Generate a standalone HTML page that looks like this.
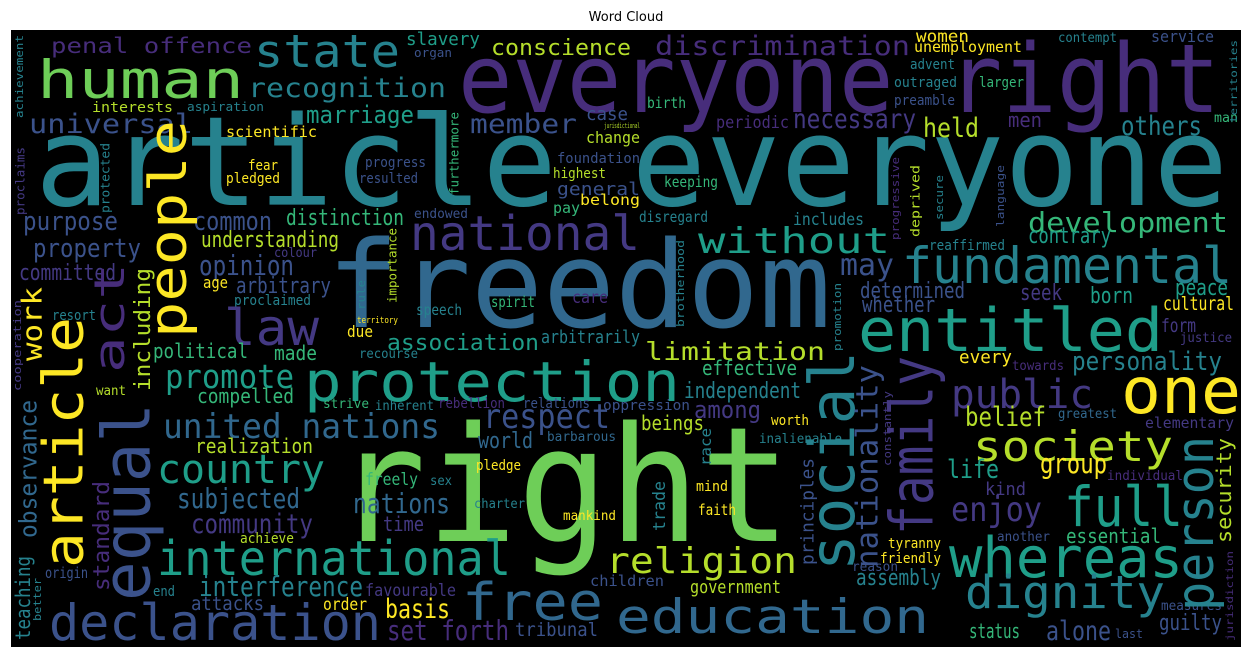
<!DOCTYPE html>
<html><head><meta charset="utf-8"><style>
html,body{margin:0;padding:0;background:#fff;}
svg{display:block;}
text{font-family:"DejaVu Sans Mono","Liberation Mono",monospace;}
</style></head><body>
<svg id="cloud" width="1252" height="656" xmlns="http://www.w3.org/2000/svg">
<text x="626" y="21" text-anchor="middle" style="font-family:'DejaVu Sans','Liberation Sans',sans-serif;font-size:13px" fill="#000">Word Cloud</text>
<rect x="11" y="30" width="1230" height="617" fill="#000"/>
<g id="words"></g>
</svg>
<script>
const P='#472d7b',P2='#443983',DB='#3b528b',B='#31688e',T='#26828e',TG='#1f9e89',G='#35b779',LG='#6ece58',YG='#b5de2b',Y='#fde725';
// horizontal words: text, x0, x1, baseline, size, color
const hWords=[
["article everyone",35,1228,205,124,T],
["everyone right",458,1220,112,95,P],
["freedom",327,831,327,120,B],
["right",335,791,541,160,LG],
["human",37,244,98,53,LG],
["state",254,400,67,45,T],
["penal offence",51,252,53,21,P],
["slavery",406,480,45,18,TG],
["conscience",491,631,55,22,YG],
["organ",414,452,57,12,DB],
["recognition",248,446,97,27,T],
["interests",92,173,112,14,YG],
["aspiration",187,264,111,12,T],
["universal",29,193,133,27,DB],
["marriage",306,414,123,24,TG],
["member",470,577,133,27,DB],
["case",586,628,120,18,DB],
["jurisdictional",604,640,128,7,YG],
["scientific",226,317,137,15,Y],
["fear",248,278,170,14,Y],
["pledged",226,280,183,14,Y],
["progress",365,426,167,14,DB],
["resulted",359,418,183,14,DB],
["foundation",557,640,163,14,DB],
["change",586,640,143,16,YG],
["highest",553,606,178,14,YG],
["general",557,640,195,18,DB],
["belong",580,640,205,15,Y],
["pay",553,580,213,15,G],
["endowed",414,468,218,13,DB],
["purpose",23,118,230,26,DB],
["common",193,272,230,26,DB],
["distinction",286,404,225,22,G],
["national",410,640,250,48,P2],
["property",33,141,257,26,DB],
["understanding",201,339,247,22,YG],
["colour",274,317,257,13,P2],
["opinion",199,294,275,28,DB],
["committed",19,116,280,22,P2],
["age",203,228,288,16,Y],
["arbitrary",236,331,293,22,DB],
["proclaimed",234,311,305,14,T],
["territory",357,398,323,9,Y],
["speech",416,462,315,15,T],
["spirit",491,535,307,15,G],
["care",572,608,303,17,P],
["due",347,373,337,16,Y],
["arbitrarily",541,640,343,18,T],
["law",224,319,345,50,P2],
["resort",52,96,320,14,T],
["association",387,539,350,22,TG],
["political",153,248,358,20,G],
["made",274,317,360,20,G],
["recourse",359,418,358,13,T],
["promote",165,294,388,33,TG],
["want",96,126,395,13,YG],
["compelled",197,294,403,20,G],
["protection",304,680,401,55,TG],
["strive",323,369,408,13,G],
["inherent",375,434,410,13,T],
["rebellion",438,505,408,14,P],
["relations",523,590,408,14,DB],
["oppression",603,690,410,14,DB],
["united nations",163,440,438,34,B],
["respect",483,610,428,34,DB],
["world",478,533,448,22,B],
["barbarous",547,616,441,13,B],
["realization",195,313,453,20,YG],
["country",157,325,483,40,TG],
["pledge",476,521,470,14,Y],
["freely",365,418,485,17,G],
["sex",430,452,485,13,T],
["subjected",177,300,508,28,B],
["nations",353,450,513,28,B],
["charter",474,525,508,13,T],
["mankind",563,616,520,13,Y],
["community",191,313,533,27,P2],
["time",383,424,531,20,P2],
["achieve",240,294,543,14,YG],
["origin",45,88,578,15,DB],
["international",157,511,575,48,TG],
["end",153,175,596,14,T],
["interference",199,363,596,28,T],
["favourable",365,456,596,17,P2],
["attacks",191,264,610,19,DB],
["order",323,367,610,17,Y],
["basis",385,450,618,27,Y],
["declaration",49,381,640,50,DB],
["set forth",387,509,640,28,P],
["free",462,603,620,52,B],
["children",590,664,586,15,DB],
["tribunal",515,598,636,19,DB],
["religion",606,797,573,36,YG],
["education",616,929,633,47,B],
["limitation",645,825,360,25,YG],
["entitled",858,1163,351,60,TG],
["justice",1180,1232,342,13,P2],
["effective",702,797,375,20,G],
["every",959,1012,363,18,Y],
["towards",1012,1064,370,13,P],
["personality",1072,1222,370,26,T],
["public",951,1093,408,40,P2],
["one",1121,1241,413,64,Y],
["independent",684,801,398,22,T],
["among",694,761,418,24,P2],
["beings",641,704,430,20,YG],
["worth",771,809,425,14,Y],
["inalienable",759,842,443,13,T],
["belief",965,1046,426,27,YG],
["greatest",1058,1117,418,13,B],
["elementary",1145,1234,428,15,P2],
["society",973,1173,461,42,YG],
["life",947,999,478,26,TG],
["group",1040,1107,473,28,Y],
["individual",1107,1183,480,13,P],
["kind",985,1026,495,18,P2],
["mind",696,728,491,14,Y],
["faith",698,736,515,15,Y],
["enjoy",951,1042,521,34,P2],
["full",1064,1183,526,55,TG],
["another",997,1050,541,13,DB],
["essential",1066,1161,543,20,G],
["tyranny",888,941,548,14,Y],
["friendly",880,941,563,14,Y],
["reason",852,898,571,13,DB],
["whereas",949,1183,577,56,TG],
["assembly",856,941,585,22,T],
["government",690,781,593,18,YG],
["dignity",965,1165,608,45,T],
["measures",1161,1222,610,13,DB],
["guilty",1159,1222,630,22,DB],
["status",969,1020,638,20,G],
["alone",1046,1111,640,27,DB],
["last",1115,1143,638,12,DB],
["discrimination",655,910,55,27,P],
["women",916,969,42,17,Y],
["unemployment",914,1022,52,15,Y],
["contempt",1058,1117,42,13,T],
["service",1151,1214,42,16,DB],
["advent",910,955,69,14,T],
["outraged",894,957,87,14,T],
["larger",979,1024,87,14,G],
["birth",647,686,108,15,G],
["preamble",894,955,105,14,DB],
["periodic",716,789,128,17,P],
["necessary",793,916,128,27,P2],
["held",923,979,137,27,YG],
["men",1008,1042,127,20,P],
["others",1121,1202,135,27,T],
["man",1214,1238,122,13,G],
["keeping",664,718,187,15,G],
["disregard",639,708,222,15,T],
["includes",793,864,225,17,T],
["without",698,890,253,36,TG],
["development",1028,1228,232,28,G],
["contrary",1028,1111,243,22,TG],
["reaffirmed",929,1005,250,14,T],
["may",840,894,275,30,DB],
["fundamental",902,1232,283,50,T],
["determined",860,965,298,22,DB],
["whether",862,935,312,22,DB],
["seek",1020,1062,300,22,P2],
["born",1090,1133,303,22,TG],
["peace",1175,1228,295,22,TG],
["cultural",1163,1234,310,19,Y],
["form",1161,1196,332,19,P2]
];
// vertical words (reading bottom-to-top): text, column center x, top y, bottom y, size, color
const vWords=[
["achievement",21,35,118,11,T],
["furthermore",456,112,195,12,G],
["protected",107,143,213,12,T],
["proclaims",22,147,215,12,P2],
["people",176,120,338,52,Y],
["importance",394,228,303,12,YG],
["rule",363,280,310,11,T],
["act",116,263,373,42,P],
["work",36,287,361,28,Y],
["including",146,268,391,22,YG],
["cooperation",19,300,391,11,P2],
["article",72,317,568,55,Y],
["equal",137,403,601,66,DB],
["observance",32,400,538,24,B],
["standard",105,481,591,22,P],
["teaching",26,556,640,20,T],
["better",39,578,621,11,T],
["promotion",839,283,351,11,T],
["social",842,351,571,62,T],
["nationality",872,365,568,30,DB],
["constantly",889,391,466,11,P2],
["family",921,356,535,60,P2],
["race",708,428,466,15,T],
["principles",810,458,565,18,DB],
["person",1203,436,611,52,T],
["security",1227,438,543,20,YG],
["trade",662,481,531,17,T],
["jurisdiction",1231,551,641,10,P],
["territories",1235,40,123,10,T],
["progressive",897,157,240,11,P],
["deprived",917,165,237,12,YG],
["secure",941,175,220,11,T],
["language",1002,165,227,11,DB],
["brotherhood",682,240,327,11,T]
];
const NS='http://www.w3.org/2000/svg';
const g=document.getElementById('words');
function slug(s){return s.replace(/\s+/g,'-');}
hWords.forEach(w=>{
  const t=document.createElementNS(NS,'text');
  t.setAttribute('x',w[1]);
  t.setAttribute('y',w[3]);
  t.setAttribute('font-size',w[4]);
  t.setAttribute('fill',w[5]);
  t.setAttribute('textLength',w[2]-w[1]);
  t.setAttribute('lengthAdjust','spacingAndGlyphs');
  
  
  t.textContent=w[0];
  g.appendChild(t);
});
vWords.forEach(w=>{
  const t=document.createElementNS(NS,'text');
  const bx=w[1]+0.19*w[4];
  t.setAttribute('transform','translate('+bx+','+w[3]+') rotate(-90)');
  t.setAttribute('x',0);
  t.setAttribute('y',0);
  t.setAttribute('font-size',w[4]);
  t.setAttribute('fill',w[5]);
  t.setAttribute('textLength',w[3]-w[2]);
  t.setAttribute('lengthAdjust','spacingAndGlyphs');
  
  
  t.textContent=w[0];
  g.appendChild(t);
});
</script>
</body></html>
